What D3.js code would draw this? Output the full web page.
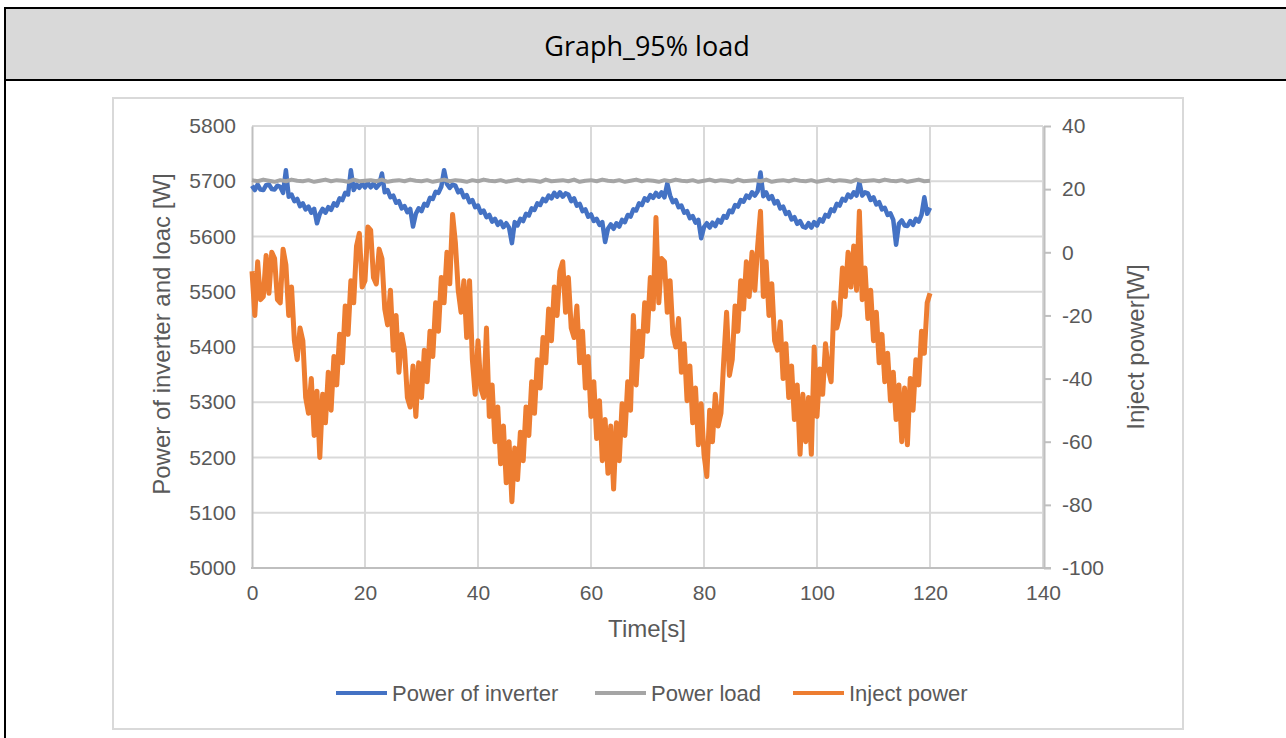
<!DOCTYPE html>
<html>
<head>
<meta charset="utf-8">
<script src="https://cdn.jsdelivr.net/npm/d3@7/dist/d3.min.js"></script>
<style>
  html, body { margin: 0; padding: 0; background: #ffffff; }
  svg { display: block; }
</style>
</head>
<body>
<svg id="chart" width="1286" height="738"></svg>
<script>
// Measured samples, 0 - 120 s
const timeStep = 0.5;   // s between samples of inverter / inject power
const loadStep = 1;     // s between samples of load power

const seriesNames = ["Power of inverter", "Power load", "Inject power"];

const inverterPower = [
  5692,5684, 5694,5685, 5684,5693, 5694,5686, 5685,5692, 5690,5679, 5720,5672, 5676,5664, 5668,5655, 5660,5649,
  5654,5643, 5650,5624, 5641,5650, 5643,5653, 5648,5660, 5656,5669, 5666,5679, 5676,5720, 5684,5694, 5688,5696,
  5689,5697, 5689,5696, 5688,5694, 5714,5680, 5684,5671, 5674,5661, 5664,5651, 5655,5644, 5650,5618, 5641,5651,
  5646,5659, 5656,5670, 5668,5681, 5679,5690, 5720,5695, 5688,5694, 5692,5680, 5684,5671, 5675,5662, 5666,5653,
  5656,5643, 5647,5635, 5639,5627, 5632,5621, 5627,5617, 5624,5616, 5588,5626, 5620,5632, 5628,5641, 5638,5651,
  5648,5660, 5657,5668, 5664,5674, 5669,5679, 5672,5680, 5672,5678, 5676,5664, 5669,5656, 5659,5646, 5649,5636,
  5640,5628, 5632,5621, 5626,5590, 5614,5622, 5614,5624, 5618,5630, 5626,5639, 5636,5649, 5647,5660, 5657,5669,
  5665,5675, 5670,5679, 5672,5680, 5671,5696, 5674,5662, 5666,5653, 5656,5643, 5646,5633, 5637,5625, 5630,5597,
  5617,5624, 5616,5625, 5619,5630, 5625,5637, 5634,5647, 5644,5657, 5654,5666, 5663,5674, 5670,5680, 5674,5682,
  5716,5673, 5680,5668, 5673,5660, 5664,5651, 5654,5641, 5644,5631, 5635,5623, 5628,5618, 5616,5624, 5616,5626,
  5620,5631, 5627,5639, 5636,5649, 5646,5659, 5656,5668, 5665,5676, 5671,5680, 5674,5698, 5674,5680, 5678,5666,
  5671,5658, 5662,5649, 5652,5639, 5642,5630, 5585,5623, 5629,5620, 5619,5628, 5621,5632, 5627,5639, 5671,5641,
  5652
];

const loadPower = [
  5702,5700,5703,5701,5699,5702,5700,5703,5701,5700,
  5702,5699,5701,5703,5700,5702,5701,5699,5703,5700,
  5701,5702,5700,5703,5699,5701,5702,5700,5703,5701,
  5700,5702,5699,5701,5703,5700,5702,5701,5699,5702,
  5700,5703,5701,5700,5702,5699,5701,5703,5700,5702,
  5701,5699,5703,5700,5701,5702,5700,5703,5699,5701,
  5702,5700,5703,5701,5700,5702,5699,5701,5703,5700,
  5702,5701,5699,5702,5700,5703,5701,5700,5702,5699,
  5701,5703,5700,5702,5701,5699,5703,5700,5701,5702,
  5700,5703,5699,5701,5702,5700,5703,5701,5700,5702,
  5699,5701,5703,5700,5702,5701,5699,5703,5700,5701,
  5702,5700,5703,5701,5700,5702,5699,5701,5703,5700,
  5701
];

const injectPower = [
  -6,-20, -3,-15, -14,-1, -13,0, -2,-15, -16,1, -4,-20, -11,-28, -34,-24, -28,-46,
  -51,-40, -58,-44, -65,-45, -54,-38, -50,-33, -42,-26, -35,-17, -26,-9, -16,2, 6,-11,
  -9,8, 7,-8, -10,1, -2,-18, -23,-12, -31,-20, -38,-26, -31,-46, -49,-36, -52,-35,
  -46,-31, -41,-25, -33,-16, -25,-8, -16,0, -10,12, 3,-12, -19,-9, -27,-9, -34,-45,
  -28,-43, -46,-24, -52,-42, -60,-49, -67,-55, -73,-60, -79,-62, -72,-57, -66,-49, -58,-41,
  -51,-34, -43,-27, -35,-18, -28,-11, -20,-6, -3,-19, -8,-24, -27,-17, -35,-25, -43,-33,
  -52,-41, -59,-47, -66,-53, -70,-55, -75,-54, -66,-48, -58,-41, -50,-20, -42,-25, -33,-16,
  -25,-8, -18,11, -16,-2, -3,-19, -9,-26, -30,-21, -38,-29, -47,-36, -54,-43, -61,-48,
  -64,-71, -50,-60, -45,-55, -51,-34, -19,-39, -34,-17, -25,-9, -18,-3, -14,0, -12,2,
  13,-14, -3,-20, -10,-28, -31,-22, -40,-29, -46,-36, -53,-42, -64,-45, -60,-46, -64,-30,
  -52,-37, -45,-29, -37,-41, -16,-24, -20,-5, -14,0, -11,2, -12,13, -15,-5, -21,-12,
  -28,-19, -35,-26, -41,-32, -47,-38, -53,-42, -60,-43, -61,-40, -50,-34, -42,-25, -32,-16,
  -13
];

const timeTicks = [0, 20, 40, 60, 80, 100, 120, 140];
const powerTicks = [5000, 5100, 5200, 5300, 5400, 5500, 5600, 5700, 5800];
const injectTicks = [-100, -80, -60, -40, -20, 0, 20, 40];

const colors = { inverter: "#4472c4", load: "#a5a5a5", inject: "#ed7d31" };
const textColor = "#595959";
const font = "'Liberation Sans', Arial, sans-serif";
const plainNumber = d => String(d);   // ASCII hyphen, no thousands separator

const svg = d3.select("#chart");

// ---- document frame with the grey heading cell ----
svg.append("rect").attr("x", 0).attr("y", 0).attr("width", 1286).attr("height", 738).attr("fill", "#ffffff");
svg.append("rect").attr("x", 5).attr("y", 8).attr("width", 1281).attr("height", 72).attr("fill", "#d9d9d9");
svg.append("line").attr("x1", 4).attr("x2", 1286).attr("y1", 8).attr("y2", 8).attr("stroke", "#000").attr("stroke-width", 2);
svg.append("line").attr("x1", 4).attr("x2", 1286).attr("y1", 80).attr("y2", 80).attr("stroke", "#000").attr("stroke-width", 2);
svg.append("line").attr("x1", 5).attr("x2", 5).attr("y1", 7).attr("y2", 738).attr("stroke", "#000").attr("stroke-width", 2);
svg.append("text").attr("x", 647).attr("y", 45).attr("text-anchor", "middle").attr("dominant-baseline", "central")
  .attr("font-family", "'Open Sans', sans-serif").attr("font-size", 27).attr("fill", "#000").text("Graph_95% load");

// chart area border
svg.append("rect").attr("x", 113).attr("y", 98).attr("width", 1070).attr("height", 631)
  .attr("fill", "#fff").attr("stroke", "#d9d9d9").attr("stroke-width", 2);

// ---- scales ----
const plot = { left: 252, right: 1043, top: 126, bottom: 568 };
const x = d3.scaleLinear().domain([0, 140]).range([plot.left, plot.right]);
const yPower = d3.scaleLinear().domain([5000, 5800]).range([plot.bottom, plot.top]);
const yInject = d3.scaleLinear().domain([-100, 40]).range([plot.bottom, plot.top]);

// ---- gridlines ----
const grid = svg.append("g");
grid.selectAll(".hg").data(powerTicks.filter(v => v !== 5000)).enter().append("line")
  .attr("x1", plot.left).attr("x2", plot.right)
  .attr("y1", d => yPower(d)).attr("y2", d => yPower(d))
  .attr("stroke", "#d9d9d9").attr("stroke-width", 2);
grid.selectAll(".vg").data(timeTicks.filter(v => v !== 0)).enter().append("line")
  .attr("x1", d => x(d)).attr("x2", d => x(d))
  .attr("y1", plot.top).attr("y2", plot.bottom)
  .attr("stroke", "#d9d9d9").attr("stroke-width", 2);

// ---- axes ----
function styleAxis(g, size) {
  g.selectAll("text").attr("font-family", font).attr("font-size", size).attr("fill", textColor);
  g.selectAll("line").attr("stroke", "#bfbfbf").attr("stroke-width", 2);
  g.select(".domain").attr("stroke", "#bfbfbf").attr("stroke-width", 2);
}

const xAxis = svg.append("g").attr("transform", `translate(0,${plot.bottom})`)
  .call(d3.axisBottom(x).tickValues(timeTicks).tickFormat(plainNumber).tickSize(0).tickPadding(17).tickSizeOuter(0));
styleAxis(xAxis, 21);
xAxis.select(".domain").remove();

const yAxisL = svg.append("g").attr("transform", `translate(${plot.left},0)`)
  .call(d3.axisLeft(yPower).tickValues(powerTicks).tickFormat(plainNumber).tickSize(0).tickPadding(16).tickSizeOuter(0));
styleAxis(yAxisL, 21);

const yAxisR = svg.append("g").attr("transform", `translate(${plot.right + 1},0)`)
  .call(d3.axisRight(yInject).tickValues(injectTicks).tickFormat(plainNumber).tickSize(7).tickPadding(11).tickSizeOuter(0));
styleAxis(yAxisR, 21);

// horizontal axis line
svg.append("line").attr("x1", plot.left - 1).attr("x2", plot.right + 8)
  .attr("y1", plot.bottom).attr("y2", plot.bottom)
  .attr("stroke", "#bfbfbf").attr("stroke-width", 2);

// axis titles
svg.append("text").attr("x", 647).attr("y", 628).attr("text-anchor", "middle").attr("dominant-baseline", "central")
  .attr("font-family", font).attr("font-size", 24).attr("fill", textColor).text("Time[s]");
svg.append("text").attr("transform", "translate(161,334) rotate(-90)").attr("text-anchor", "middle").attr("dominant-baseline", "central")
  .attr("font-family", font).attr("font-size", 24).attr("fill", textColor).text("Power of inverter and loac [W]");
svg.append("text").attr("transform", "translate(1135,347) rotate(-90)").attr("text-anchor", "middle").attr("dominant-baseline", "central")
  .attr("font-family", font).attr("font-size", 24).attr("fill", textColor).text("Inject power[W]");

// ---- series ----
const plotLayer = svg.append("g");
const linePower = (step) => d3.line().x((d, i) => x(i * step)).y(d => yPower(d));
const lineInject = d3.line().x((d, i) => x(i * timeStep)).y(d => yInject(d));

plotLayer.append("path").datum(inverterPower).attr("d", linePower(timeStep))
  .attr("fill", "none").attr("stroke", colors.inverter).attr("stroke-width", 4.5).attr("stroke-linejoin", "round");
plotLayer.append("path").datum(loadPower).attr("d", linePower(loadStep))
  .attr("fill", "none").attr("stroke", colors.load).attr("stroke-width", 4).attr("stroke-linejoin", "round");
plotLayer.append("path").datum(injectPower).attr("d", lineInject)
  .attr("fill", "none").attr("stroke", colors.inject).attr("stroke-width", 5).attr("stroke-linejoin", "round");

// ---- legend ----
const legendItems = [
  { name: seriesNames[0], color: colors.inverter, x: 336 },
  { name: seriesNames[1], color: colors.load, x: 595 },
  { name: seriesNames[2], color: colors.inject, x: 793 }
];
const legend = svg.append("g");
legendItems.forEach(item => {
  legend.append("line").attr("x1", item.x).attr("x2", item.x + 51).attr("y1", 693).attr("y2", 693)
    .attr("stroke", item.color).attr("stroke-width", 4);
  legend.append("text").attr("x", item.x + 56).attr("y", 693).attr("dominant-baseline", "central")
    .attr("font-family", font).attr("font-size", 22).attr("fill", textColor).text(item.name);
});
</script>
</body>
</html>
